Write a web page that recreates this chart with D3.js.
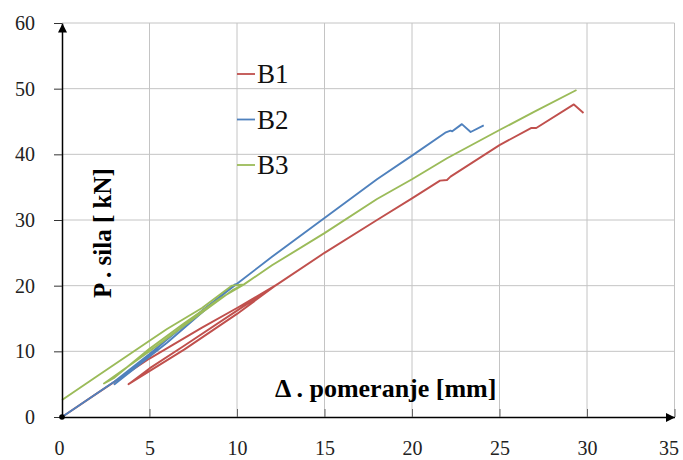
<!DOCTYPE html>
<html>
<head>
<meta charset="utf-8">
<script src="https://cdn.jsdelivr.net/npm/d3@7"></script>
<style>
  body { margin: 0; background: #fff; }
</style>
</head>
<body>
<div id="chart"></div>
<script>
// Series names and colours
const seriesNames = ["B1", "B2", "B3"];
const seriesColors = ["#c0504d", "#4f81bd", "#9bbb59"];

// B1: loading, unload/reload loop, then up to failure  [displacement mm, force kN]
const b1 = [[0, 0], [2, 3.6], [5, 8.9], [8, 13.6], [10, 16.6], [12.3, 20.2],
    [10, 15.7], [7, 10.3], [3.8, 5.0],
    [5, 7.4], [7, 10.9], [10, 16.2], [12.3, 20.2],
    [15, 25.0], [18, 30.0], [20, 33.3], [21.6, 36.0], [22, 36.1], [22.2, 36.6],
    [25, 41.4], [26.8, 44.0], [27.1, 44.0], [29.25, 47.6], [29.8, 46.3]];

// B2
const b2 = [[0, 0], [3, 5.4], [5, 9.6], [7, 14.0], [9.9, 20.2],
    [8, 15.9], [6, 11.3], [3.0, 5.0],
    [4, 7.2], [6, 11.8], [8, 16.2], [10, 20.3],
    [12, 24.4], [15, 30.3], [18, 36.2], [20, 39.8], [21.9, 43.3], [22.2, 43.6],
    [22.3, 43.5], [22.85, 44.6], [23.35, 43.4], [24.1, 44.4]];

// B3
const b3 = [[0, 2.6], [2, 6.2], [5, 11.6], [6, 13.4], [8, 16.6], [9.7, 20.0], [10.4, 20.2],
    [9.8, 19.4], [8, 15.9], [5, 10.0], [2.4, 5.1],
    [3, 6.0], [5, 10.4], [7, 14.3], [9, 18.0], [10.4, 20.2],
    [12, 23.1], [15, 28.0], [18, 33.2], [20, 36.2], [22, 39.4], [25, 43.7],
    [27, 46.5], [29.4, 49.8]];

const seriesData = [b1, b2, b3];

// Tick values
const xTicks = [0, 5, 10, 15, 20, 25, 30, 35];
const yTicks = [0, 10, 20, 30, 40, 50, 60];

// Axis titles
const xTitleText = "Δ . pomeranje [mm]";
const yTitleText = "P . sila [ kN]";

// Format container
const width = 683;
const height = 460;
const margin = { top: 23, right: 8.5, bottom: 43, left: 62 };

const x = d3.scaleLinear().domain([0, 35])
    .range([margin.left, width - margin.right]);
const y = d3.scaleLinear().domain([0, 60])
    .range([height - margin.bottom, margin.top]);

const svg = d3.select("#chart").append("svg")
    .attr("width", width)
    .attr("height", height)
    .style("font-family", "'Liberation Serif', 'Times New Roman', serif");

// Arrow head for the axes
svg.append("defs").append("marker")
    .attr("id", "arrow")
    .attr("viewBox", "0 0 10 10")
    .attr("refX", 10)
    .attr("refY", 5)
    .attr("markerWidth", 11)
    .attr("markerHeight", 9)
    .attr("markerUnits", "userSpaceOnUse")
    .attr("orient", "auto")
    .append("path")
    .attr("d", "M0,0L10,5L0,10z")
    .attr("fill", "#000");

// Grid lines
svg.append("g")
    .selectAll("line")
    .data(xTicks.filter(d => d > 0))
    .join("line")
    .attr("x1", d => x(d)).attr("x2", d => x(d))
    .attr("y1", y(0)).attr("y2", y(60))
    .attr("stroke", "#c4c4c4")
    .attr("stroke-width", 1);

svg.append("g")
    .selectAll("line")
    .data(yTicks.filter(d => d > 0))
    .join("line")
    .attr("x1", x(0)).attr("x2", x(35))
    .attr("y1", d => y(d)).attr("y2", d => y(d))
    .attr("stroke", "#c4c4c4")
    .attr("stroke-width", 1);

// Data lines
const line = d3.line().x(d => x(d[0])).y(d => y(d[1]));

svg.append("g")
    .selectAll("path")
    .data(seriesData)
    .join("path")
    .attr("d", line)
    .attr("fill", "none")
    .attr("stroke", (d, i) => seriesColors[i])
    .attr("stroke-width", 1.9)
    .attr("stroke-linejoin", "round");

// x axis
const xAxis = svg.append("g")
    .attr("transform", `translate(0,${y(0)})`)
    .call(d3.axisBottom(x).tickValues(xTicks).tickSizeInner(-8).tickSizeOuter(0).tickPadding(24));
xAxis.select(".domain")
    .attr("stroke", "#000").attr("stroke-width", 1.5)
    .attr("marker-end", "url(#arrow)");
xAxis.selectAll(".tick line").attr("stroke", "#666");
xAxis.selectAll(".tick text")
    .attr("font-size", 20)
    .attr("font-family", "'Liberation Serif', serif")
    .attr("fill", "#222")
    .attr("dx", d => d === 35 ? -6 : (d === 0 ? -3 : 0));

// y axis
const yAxis = svg.append("g")
    .attr("transform", `translate(${x(0)},0)`)
    .call(d3.axisLeft(y).tickValues(yTicks).tickSizeInner(8).tickSizeOuter(0).tickPadding(19));
yAxis.select(".domain")
    .attr("stroke", "#000").attr("stroke-width", 1.5)
    .attr("marker-end", "url(#arrow)");
yAxis.selectAll(".tick line").attr("stroke", "#333");
yAxis.selectAll(".tick text")
    .attr("font-size", 20)
    .attr("font-family", "'Liberation Serif', serif")
    .attr("fill", "#222");

// Origin dot
svg.append("circle")
    .attr("cx", x(0)).attr("cy", y(0)).attr("r", 2.8)
    .attr("fill", "#000");

// Axis titles
svg.append("text")
    .attr("x", x(18.5))
    .attr("y", y(3.1))
    .attr("text-anchor", "middle")
    .attr("font-size", 26)
    .attr("font-weight", "bold")
    .text(xTitleText);

svg.append("text")
    .attr("transform", `translate(${x(2.78)},${y(28)}) rotate(-90)`)
    .attr("text-anchor", "middle")
    .attr("font-size", 25)
    .attr("font-weight", "bold")
    .text(yTitleText);

// Legend
const legend = svg.append("g")
    .selectAll("g")
    .data(seriesNames)
    .join("g")
    .attr("transform", (d, i) => `translate(237,${74 + i * 45.5})`);

legend.append("line")
    .attr("x1", 0).attr("x2", 18)
    .attr("stroke", (d, i) => seriesColors[i])
    .attr("stroke-width", 1.8);

legend.append("text")
    .attr("x", 20)
    .attr("dy", "0.35em")
    .attr("font-size", 27)
    .attr("fill", "#111")
    .text(d => d);
</script>
</body>
</html>
